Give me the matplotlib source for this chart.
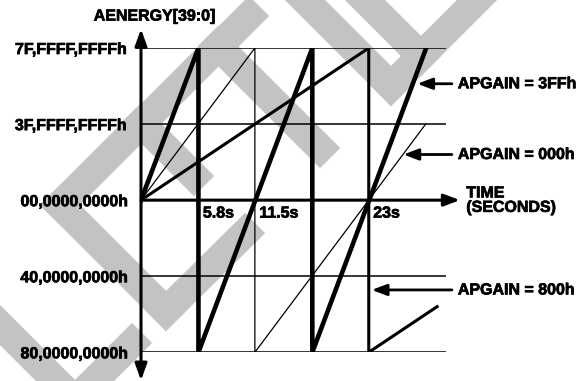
import matplotlib
matplotlib.use("Agg")
import matplotlib.pyplot as plt
import matplotlib.patheffects as pe
from matplotlib import font_manager as fm

# bold Helvetica-like face (Liberation Sans Bold), fallback DejaVu
try:
    bold_path = fm.findfont(fm.FontProperties(family="Liberation Sans", weight="bold"),
                            fallback_to_default=False)
    FP = fm.FontProperties(fname=bold_path, size=11.5)
except Exception:
    FP = fm.FontProperties(family="DejaVu Sans", weight="bold", size=10)
HEAVY = [pe.withStroke(linewidth=0.5, foreground="k")]

# register levels (+2 = 7F..FFh, -2 = 80..00h) and their labels
levels = [2, 1, 0, -1, -2]
level_labels = ["7F,FFFF,FFFFh", "3F,FFFF,FFFFh", "00,0000,0000h",
                "40,0000,0000h", "80,0000,0000h"]

# time marks (s)
time_marks = [5.8, 11.5, 23]
time_labels = ["5.8s", "11.5s", "23s"]

# energy accumulation for each gain setting: (time s, register level)
gain_3ff_t = [0, 5.8, 5.8, 17.3, 17.3, 28.8]
gain_3ff_v = [0, 2, -2, 2, -2, 2]
gain_000_t = [0, 11.5, 11.5, 28.75]
gain_000_v = [0, 2, -2, 1]
gain_800_t = [0, 23, 23, 29.9]
gain_800_v = [0, 2, -2, -1.4]

# callouts: label, arrow tip (t, level)
callouts = ["APGAIN = 3FFh", "APGAIN = 000h", "APGAIN = 800h"]
callout_tip_t = [27.9, 26.5, 23.3]
callout_v = [1.53, 0.60, -1.18]

# background watermark strokes, image pixels (x, y from top)
watermark = [
    ((60, 205), (249, 16)),
    ((60, 205), (166, 311)),
    ((166, 311), (245, 233)),
    ((141, 123), (194, 176)),
    ((218, 46), (320, 148)),
    ((391, 86), (507, -30)),
    ((391, 86), (275, -30)),
    ((421, 56), (335, -30)),
    ((-30, 295), (75, 400)),
    ((75, 400), (132, 343)),
]

W, H = 582, 381
fig = plt.figure(figsize=(W / 100, H / 100), dpi=100)
ax = fig.add_axes([141 / W, 1 - 352.3 / H, (446 - 141) / W, (352.3 - 48) / H])
ax.set_xlim(0, 30.8)
ax.set_ylim(-2, 2)
ax.axis("off")

for (x0, y0), (x1, y1) in watermark:
    ax.plot([x0 / W, x1 / W], [1 - y0 / H, 1 - y1 / H], color="#c3c3c3",
            lw=20.5, solid_capstyle="projecting", transform=fig.transFigure,
            clip_on=False, zorder=0)

# horizontal level lines
for lv in levels:
    if lv != 0:
        ax.plot([0, 30.8], [lv, lv], color="k", lw=1.1, zorder=2)

ax.plot(gain_000_t, gain_000_v, color="k", lw=0.9, zorder=3)
ax.plot(gain_800_t, gain_800_v, color="k", lw=2.2, zorder=3)
ax.plot(gain_3ff_t, gain_3ff_v, color="k", lw=3.3, zorder=4)

# axes with arrows
ax.annotate("", xy=(0, 2.25), xytext=(0, -2.37),
            arrowprops=dict(arrowstyle="<|-|>,head_length=10,head_width=3.6",
                            mutation_scale=1, lw=2.2, color="k",
                            shrinkA=0, shrinkB=0),
            annotation_clip=False, zorder=5)
ax.annotate("", xy=(32.2, 0), xytext=(0, 0),
            arrowprops=dict(arrowstyle="-|>,head_length=9.5,head_width=3.6",
                            mutation_scale=1, lw=2.2, color="k",
                            shrinkA=0, shrinkB=0),
            annotation_clip=False, zorder=5)

txt = dict(fontproperties=FP, clip_on=False, path_effects=HEAVY)
ax.text(1.4, 2.42, "AENERGY[39:0]", ha="center", va="center", **txt)
for lv, lab in zip(levels, level_labels):
    ax.text(-1.3, lv - 0.02, lab, ha="right", va="center", **txt)
for tm, lab in zip(time_marks, time_labels):
    ax.text(tm + 0.45, -0.17, lab, ha="left", va="center", **txt)
ax.text(32.85, 0.0, "TIME\n(SECONDS)", ha="left", va="center",
        linespacing=0.95, **txt)

for lab, tip, v in zip(callouts, callout_tip_t, callout_v):
    ax.annotate("", xy=(tip, v), xytext=(31.4, v),
                arrowprops=dict(arrowstyle="-|>,head_length=9,head_width=3.4",
                                mutation_scale=1, lw=2, color="k",
                                shrinkA=0, shrinkB=0),
                annotation_clip=False)
    ax.text(32.0, v, lab, ha="left", va="center", **txt)

fig.savefig("out.png", dpi=100)
